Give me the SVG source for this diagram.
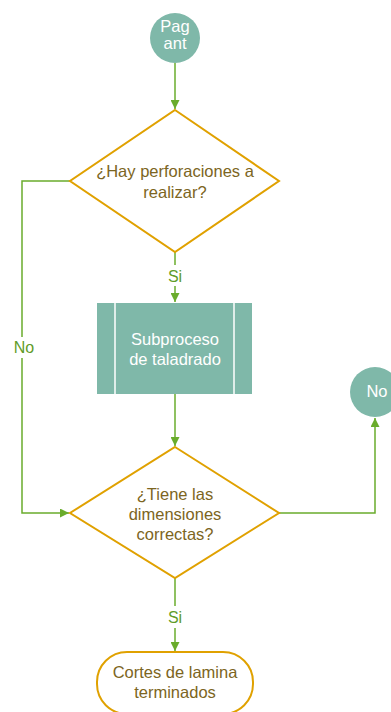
<svg xmlns="http://www.w3.org/2000/svg" width="391" height="712" viewBox="0 0 391 712">
  <style>
    .conn { fill: none; stroke: #6aac2c; stroke-width: 1.5; }
    .dec { fill: #ffffff; stroke: #e0a100; stroke-width: 2; }
    .term { fill: #ffffff; stroke: #e0a100; stroke-width: 2; }
    .teal { fill: #7fb8a9; }
    .txt { font-family: "Liberation Sans", Arial, sans-serif; font-size: 16.5px; text-anchor: middle; }
    .dark { fill: #7c6522; }
    .light { fill: #ffffff; }
    .lbl { font-family: "Liberation Sans", Arial, sans-serif; font-size: 16px; text-anchor: middle; fill: #5f9c2a; }
  </style>
  <defs>
    <marker id="arrow" viewBox="0 0 10 10" refX="10" refY="5" markerWidth="9" markerHeight="9" markerUnits="userSpaceOnUse" orient="auto">
      <path d="M0,0 L10,5 L0,10 z" fill="#6aac2c"/>
    </marker>
  </defs>

  <g id="connectors">
    <path class="conn" d="M175,63 L175,109" marker-end="url(#arrow)"/>
    <path class="conn" d="M175,252 L175,265"/>
    <path class="conn" d="M175,286 L175,302" marker-end="url(#arrow)"/>
    <path class="conn" d="M175,394 L175,446" marker-end="url(#arrow)"/>
    <path class="conn" d="M70,181 L22,181 L22,337"/>
    <path class="conn" d="M22,358 L22,513 L69,513" marker-end="url(#arrow)"/>
    <path class="conn" d="M279,513 L375,513 L375,418" marker-end="url(#arrow)"/>
    <path class="conn" d="M175,578 L175,606"/>
    <path class="conn" d="M175,628 L175,651" marker-end="url(#arrow)"/>
    <text class="lbl" x="175" y="282">Si</text>
    <text class="lbl" x="24" y="353">No</text>
    <text class="lbl" x="175" y="623">Si</text>
  </g>

  <g id="start">
    <circle class="teal" cx="175" cy="38" r="25"/>
    <text class="txt light" x="175" y="32">Pag</text>
    <text class="txt light" x="175" y="49">ant</text>
  </g>

  <g id="decision1">
    <polygon class="dec" points="175,110 279,181 175,252 70,181"/>
    <text class="txt dark" x="175" y="177">¿Hay perforaciones a</text>
    <text class="txt dark" x="175" y="198">realizar?</text>
  </g>

  <g id="subprocess">
    <rect class="teal" x="97" y="303" width="155" height="91"/>
    <line x1="115" y1="303" x2="115" y2="394" stroke="#ffffff" stroke-width="1.5"/>
    <line x1="234" y1="303" x2="234" y2="394" stroke="#ffffff" stroke-width="1.5"/>
    <text class="txt light" x="175" y="345">Subproceso</text>
    <text class="txt light" x="175" y="365">de taladrado</text>
  </g>

  <g id="decision2">
    <polygon class="dec" points="175,447 279,513 175,578 70,513"/>
    <text class="txt dark" x="175" y="500">¿Tiene las</text>
    <text class="txt dark" x="175" y="520">dimensiones</text>
    <text class="txt dark" x="175" y="540">correctas?</text>
  </g>

  <g id="off-no">
    <circle class="teal" cx="375" cy="392" r="25"/>
    <text class="txt light" x="377" y="397">No</text>
  </g>

  <g id="end">
    <rect class="term" x="97" y="652" width="156" height="62" rx="30" ry="30"/>
    <text class="txt dark" x="175" y="678">Cortes de lamina</text>
    <text class="txt dark" x="175" y="698">terminados</text>
  </g>
</svg>
